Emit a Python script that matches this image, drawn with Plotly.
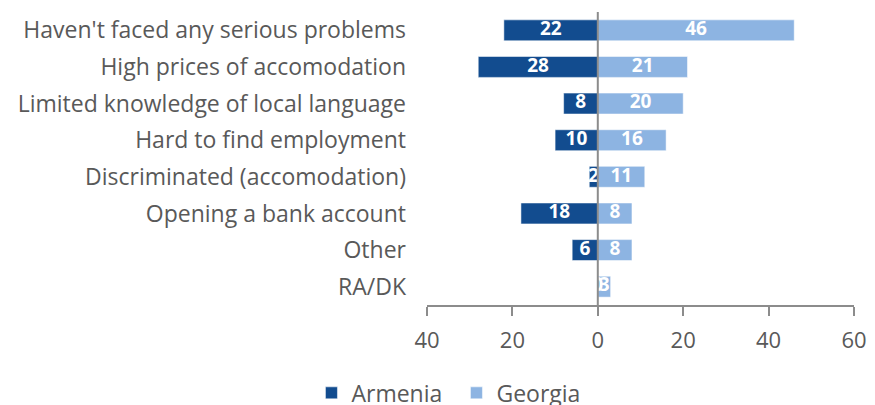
import plotly.graph_objects as go

categories = [
    "Haven't faced any serious problems",
    "High prices of accomodation",
    "Limited knowledge of local language",
    "Hard to find employment",
    "Discriminated (accomodation)",
    "Opening a bank account",
    "Other",
    "RA/DK",
]
armenia = [22, 28, 8, 10, 2, 18, 6, 0]
georgia = [46, 21, 20, 16, 11, 8, 8, 3]

tick_vals = [-40, -20, 0, 20, 40, 60]
tick_text = ["40", "20", "0", "20", "40", "60"]

DARK = "#124C8F"
LIGHT = "#8DB4E2"
GREY = "#595959"
AXIS = "#8C8C8C"
FONT = "Open Sans"

# the page body has an 8px margin, so the figure is 8px smaller
W, H = 867, 397

fig = go.Figure()

fig.add_trace(go.Bar(
    y=categories, x=[-v for v in armenia], orientation="h",
    name="Armenia", marker=dict(color=DARK, line=dict(color="white", width=0.5)),
))
fig.add_trace(go.Bar(
    y=categories, x=georgia, orientation="h",
    name="Georgia", marker=dict(color=LIGHT, line=dict(color="white", width=0.5)),
))

# value labels at bar centres (not shrunk like inside text)
fig.add_trace(go.Scatter(
    y=categories, x=[-v / 2 for v in armenia], mode="text",
    text=[str(v) for v in armenia], showlegend=False, hoverinfo="skip",
    textfont=dict(color="white", size=19, family=FONT, weight="bold"),
))
fig.add_trace(go.Scatter(
    y=categories, x=[v / 2 for v in georgia], mode="text",
    text=[str(v) for v in georgia], showlegend=False, hoverinfo="skip",
    textfont=dict(color="white", size=19, family=FONT, weight="bold"),
))

fig.update_layout(
    barmode="relative",
    bargap=0.43,
    width=W, height=H,
    margin=dict(l=419, r=21, t=4, b=100, autoexpand=False),
    plot_bgcolor="white", paper_bgcolor="white",
    font=dict(family=FONT, color=GREY, size=21),
    legend=dict(
        orientation="h", xref="container", yref="paper",
        x=0.35, xanchor="left", y=-0.30, yanchor="middle",
        font=dict(size=23, color=GREY), traceorder="normal",
        itemwidth=30, entrywidth=100,
    ),
    showlegend=True,
)
fig.update_xaxes(
    range=[-40, 60], tickvals=tick_vals, ticktext=tick_text,
    showgrid=False, zeroline=False, automargin=False,
    showline=True, linecolor=AXIS, linewidth=2,
    ticks="outside", ticklen=9, tickcolor=AXIS, tickwidth=2,
    ticklabelstandoff=6,
    tickfont=dict(size=22, color=GREY),
)
fig.update_yaxes(
    autorange="reversed", showgrid=False, zeroline=False, automargin=False,
    showline=False, ticks="", ticklabelstandoff=20,
    tickfont=dict(size=23, color=GREY),
)
fig.add_vline(x=0, line_color=AXIS, line_width=2, layer="above")

fig.write_html("out.html")
